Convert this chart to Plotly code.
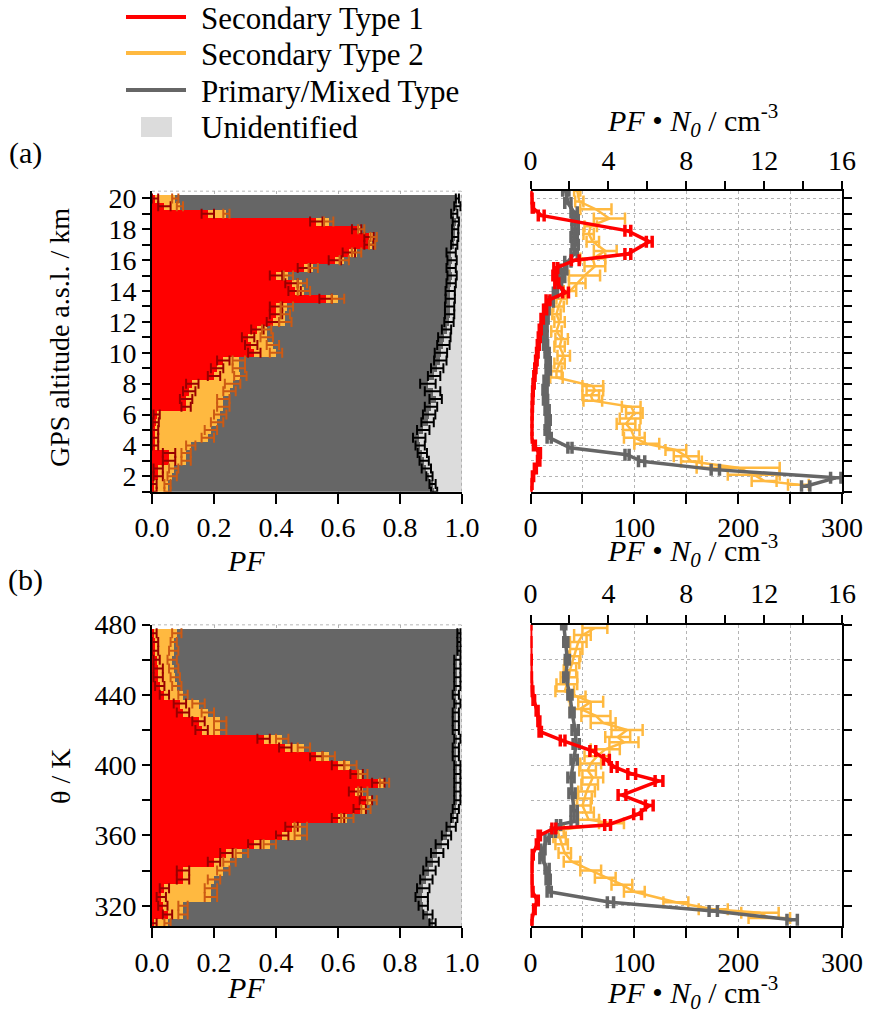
import plotly.graph_objects as go

# ---------------- (a) particle fractions vs. GPS altitude (0.5 km bins) ----------------
alt_bins = [20.0, 19.5, 19.0, 18.5, 18.0, 17.5, 17.0, 16.5, 16.0, 15.5, 15.0, 14.5, 14.0,
            13.5, 13.0, 12.5, 12.0, 11.5, 11.0, 10.5, 10.0, 9.5, 9.0, 8.5, 8.0, 7.5, 7.0,
            6.5, 6.0, 5.5, 5.0, 4.5, 4.0, 3.5, 3.0, 2.5, 2.0, 1.5, 1.0]
pf_sec1_a = [0.01, 0.04, 0.18, 0.53, 0.66, 0.70, 0.70, 0.635, 0.59, 0.49, 0.40, 0.45, 0.46,
             0.56, 0.40, 0.40, 0.39, 0.34, 0.31, 0.32, 0.33, 0.23, 0.21, 0.20, 0.13, 0.12, 0.11,
             0.11, 0.015, 0.012, 0.01, 0.01, 0.01, 0.055, 0.055, 0.02, 0.02, 0.005, 0.005]
pf_sec2_a = [0.065, 0.05, 0.06, 0.04, 0.015, 0.015, 0.01, 0.025, 0.03, 0.03, 0.04, 0.035, 0.03,
             0.04, 0.035, 0.03, 0.04, 0.03, 0.06, 0.07, 0.07, 0.05, 0.07, 0.085, 0.13, 0.13, 0.12,
             0.12, 0.205, 0.198, 0.18, 0.17, 0.115, 0.055, 0.055, 0.05, 0.045, 0.045, 0.045]
pf_unid_a = [0.015, 0.015, 0.025, 0.02, 0.022, 0.022, 0.025, 0.035, 0.032, 0.035, 0.032, 0.035, 0.038,
             0.038, 0.04, 0.04, 0.042, 0.05, 0.057, 0.06, 0.068, 0.07, 0.08, 0.09, 0.11, 0.095, 0.085,
             0.10, 0.106, 0.111, 0.125, 0.138, 0.135, 0.128, 0.122, 0.115, 0.105, 0.095, 0.09]
err_sec1_a = [0.01, 0.02, 0.02, 0.02, 0.015, 0.015, 0.015, 0.02, 0.02, 0.02, 0.02, 0.02, 0.02,
              0.02, 0.02, 0.02, 0.02, 0.02, 0.02, 0.02, 0.02, 0.02, 0.02, 0.02, 0.02, 0.02, 0.02,
              0.015, 0.01, 0.01, 0.01, 0.01, 0.01, 0.02, 0.02, 0.015, 0.015, 0.01, 0.01]
err_sec2_a = [0.01, 0.01, 0.01, 0.015, 0.01, 0.01, 0.01, 0.015, 0.015, 0.015, 0.015, 0.015, 0.02,
              0.02, 0.02, 0.015, 0.02, 0.015, 0.02, 0.02, 0.02, 0.02, 0.02, 0.02, 0.025, 0.02, 0.02,
              0.02, 0.02, 0.02, 0.02, 0.02, 0.015, 0.015, 0.015, 0.015, 0.015, 0.01, 0.01]
err_prim_a = [0.005, 0.01, 0.01, 0.01, 0.01, 0.01, 0.01, 0.015, 0.015, 0.015, 0.015, 0.015, 0.015,
              0.015, 0.015, 0.015, 0.015, 0.015, 0.02, 0.02, 0.02, 0.02, 0.02, 0.02, 0.025, 0.025, 0.02,
              0.02, 0.02, 0.02, 0.02, 0.02, 0.015, 0.015, 0.015, 0.015, 0.01, 0.01, 0.01]

# number concentrations PF*N0 along the flight, (a)
alt_sec1_n = [20.5, 20.0, 19.4, 18.9, 17.9, 17.2, 16.4, 16.0, 15.5, 15.0, 14.5, 13.9, 13.4, 12.8,
              12.2, 11.5, 11.0, 10.5, 10.0, 9.5, 9.0, 8.5, 8.0, 7.5, 7.0, 6.5, 6.0, 5.5, 5.0, 4.5,
              4.0, 3.5, 3.0, 2.5, 2.0, 1.5, 1.0]
n_sec1_a = [0.0, 0.05, 0.1, 0.55, 5.0, 6.1, 5.0, 2.3, 1.3, 1.25, 1.35, 1.8, 0.9, 0.75,
            0.6, 0.5, 0.45, 0.4, 0.35, 0.3, 0.25, 0.2, 0.16, 0.12, 0.1, 0.08, 0.06, 0.05, 0.05, 0.05,
            0.2, 0.45, 0.42, 0.25, 0.12, 0.05, 0.0]
nerr_sec1_a = [0.02, 0.03, 0.05, 0.15, 0.15, 0.15, 0.15, 0.2, 0.1, 0.1, 0.1, 0.15, 0.1, 0.08,
               0.06, 0.05, 0.05, 0.05, 0.04, 0.04, 0.03, 0.03, 0.03, 0.02, 0.02, 0.02, 0.02, 0.02, 0.02, 0.02,
               0.05, 0.06, 0.06, 0.05, 0.04, 0.03, 0.02]

alt_sec2_n = [20.5, 19.8, 19.3, 18.7, 18.2, 17.7, 17.2, 16.6, 16.1, 15.6, 15.0, 14.5, 14.0, 13.5,
              13.0, 12.5, 12.0, 11.4, 10.9, 10.4, 9.8, 9.3, 8.8, 8.4, 7.85, 7.55, 7.25, 6.9, 6.5,
              6.1, 5.75, 5.4, 5.0, 4.5, 4.1, 3.7, 3.3, 2.95, 2.55, 2.1, 1.7, 1.45]
n_sec2_a = [45, 47, 63, 76, 58, 56, 60, 72, 60, 62, 52, 45, 38, 30,
            27, 25, 28, 25, 30, 28, 32, 28, 25, 25, 60, 62, 58, 60, 97,
            100, 96, 92, 97, 100, 112, 140, 150, 155, 200, 215, 225, 258]
nerr_sec2_a = [3, 4, 15, 15, 6, 5, 6, 11, 12, 10, 15, 8, 6, 5,
               5, 4, 5, 5, 6, 5, 6, 5, 5, 6, 10, 8, 8, 9, 9,
               8, 10, 9, 8, 10, 12, 10, 12, 10, 40, 25, 12, 10]

alt_prim_n = [20.5, 19.7, 19.1, 18.6, 18.0, 17.5, 17.0, 16.4, 15.9, 15.4, 14.9, 14.4, 13.9, 13.3,
              12.8, 12.2, 11.7, 11.1, 10.5, 10.0, 9.4, 8.9, 8.2, 7.6, 6.95, 6.3, 5.65, 5.0, 4.5,
              3.85, 3.4, 2.97, 2.43, 1.9, 1.35]
n_prim_a = [34, 36, 42, 43, 43, 42, 43, 42, 36, 32, 30, 27, 24, 20,
            16, 15, 14, 14, 14.5, 16, 17, 17, 15, 14, 14.5, 16, 17, 16, 18,
            38, 93, 107, 178, 294, 265]
nerr_prim_a = [3, 3, 3, 3, 3, 3, 3, 3, 3, 3, 3, 3, 2, 2,
               2, 2, 2, 2, 2, 2, 2, 2, 2, 2, 2, 2, 2, 2, 2,
               2, 2, 3, 4, 5, 4]

# ---------------- (b) particle fractions vs. potential temperature (5 K bins) ----------------
theta_bins = [475, 470, 465, 460, 455, 450, 445, 440, 435, 430, 425, 420, 415, 410, 405, 400, 395,
              390, 385, 380, 375, 370, 365, 360, 355, 350, 345, 340, 335, 330, 325, 320, 315, 310]
pf_sec1_b = [0.005, 0.01, 0.01, 0.015, 0.02, 0.02, 0.025, 0.04, 0.09, 0.10, 0.15, 0.16, 0.36, 0.43,
             0.53, 0.60, 0.66, 0.73, 0.655, 0.69, 0.67, 0.60, 0.45, 0.42, 0.33, 0.24, 0.20, 0.10,
             0.10, 0.04, 0.03, 0.035, 0.05, 0.005]
pf_sec2_b = [0.075, 0.06, 0.06, 0.05, 0.05, 0.055, 0.055, 0.06, 0.06, 0.08, 0.07, 0.06, 0.06, 0.06,
             0.04, 0.04, 0.02, 0.02, 0.025, 0.02, 0.02, 0.03, 0.03, 0.06, 0.05, 0.05, 0.05, 0.13,
             0.10, 0.15, 0.16, 0.065, 0.05, 0.045]
pf_unid_b = [0.01, 0.01, 0.01, 0.015, 0.015, 0.015, 0.015, 0.02, 0.015, 0.02, 0.02, 0.02, 0.015, 0.02,
             0.02, 0.015, 0.015, 0.015, 0.015, 0.015, 0.02, 0.025, 0.035, 0.05, 0.065, 0.08, 0.095, 0.105,
             0.115, 0.125, 0.13, 0.125, 0.11, 0.095]
err_sec1_b = [0.01, 0.01, 0.01, 0.01, 0.015, 0.015, 0.015, 0.015, 0.02, 0.02, 0.02, 0.02, 0.02, 0.02,
              0.02, 0.02, 0.02, 0.02, 0.02, 0.02, 0.02, 0.02, 0.02, 0.02, 0.02, 0.02, 0.02, 0.02,
              0.02, 0.015, 0.015, 0.015, 0.015, 0.01]
err_sec2_b = [0.015, 0.01, 0.015, 0.015, 0.015, 0.015, 0.015, 0.015, 0.02, 0.02, 0.02, 0.02, 0.02, 0.02,
              0.02, 0.02, 0.015, 0.015, 0.015, 0.015, 0.015, 0.02, 0.02, 0.02, 0.02, 0.02, 0.02, 0.02,
              0.02, 0.02, 0.02, 0.015, 0.015, 0.01]
err_prim_b = [0.005, 0.005, 0.005, 0.01, 0.01, 0.01, 0.01, 0.01, 0.01, 0.01, 0.01, 0.01, 0.01, 0.01,
              0.01, 0.01, 0.01, 0.01, 0.01, 0.01, 0.01, 0.01, 0.015, 0.015, 0.02, 0.02, 0.02, 0.02,
              0.02, 0.02, 0.02, 0.015, 0.015, 0.01]

theta_sec1_n = [480, 470, 460, 450, 442, 437, 431, 425, 419, 414, 408, 403, 399, 395, 391, 383, 377,
                372, 366, 364, 360, 355, 349, 342, 335, 328, 323, 318, 312, 309]
n_sec1_b = [0.0, 0.0, 0.02, 0.03, 0.09, 0.17, 0.34, 0.43, 0.5, 1.65, 3.2, 3.9, 4.3, 5.2, 6.6, 4.7, 6.1,
            5.5, 3.96, 1.2, 0.45, 0.35, 0.1, 0.05, 0.05, 0.1, 0.35, 0.2, 0.05, 0.0]
nerr_sec1_b = [0.02, 0.02, 0.02, 0.02, 0.03, 0.04, 0.05, 0.05, 0.06, 0.12, 0.15, 0.15, 0.15, 0.2, 0.2,
               0.2, 0.2, 0.2, 0.15, 0.1, 0.06, 0.05, 0.04, 0.03, 0.03, 0.03, 0.05, 0.04, 0.03, 0.02]

theta_sec2_n = [478, 474, 470, 466, 462, 458, 454, 450, 446, 442, 439, 436, 432, 428, 424, 420, 416,
                413, 409, 405, 401, 397, 393, 389, 385, 381, 377, 373, 369, 367, 363, 359, 355, 350,
                345, 340, 336, 332, 328, 322, 318, 316, 313]
n_sec2_b = [62, 50, 46, 44, 42, 40, 38, 37, 35, 33, 45, 58, 48, 63, 70, 93, 84,
            90, 72, 64, 58, 55, 60, 57, 54, 52, 50, 53, 56, 78, 26, 28, 30, 33,
            40, 58, 72, 88, 100, 140, 176, 221, 230]
nerr_sec2_b = [12, 8, 8, 6, 6, 7, 6, 8, 10, 9, 8, 12, 10, 14, 12, 15, 12,
               14, 14, 12, 10, 8, 10, 8, 8, 7, 8, 8, 10, 12, 6, 6, 6, 6,
               8, 10, 10, 10, 10, 12, 14, 18, 20]

theta_prim_n = [480, 470, 460, 450, 440, 430, 420, 412, 403, 393, 384, 374, 368, 366, 362, 358, 352,
                347, 341, 335, 328, 322, 317, 312]
n_prim_b = [32, 34, 35.5, 34, 38, 40, 43, 44, 42, 39, 40, 42, 42, 27, 22, 16, 12,
            11, 16, 17, 18, 77, 176, 252]
nerr_prim_b = [2, 2, 2, 2, 2, 2, 3, 3, 3, 3, 3, 3, 3, 2, 2, 2, 2,
               2, 2, 2, 2, 3, 4, 5]

# ---------------- styling ----------------
FONT = "Liberation Serif, Times New Roman, DejaVu Serif, serif"
C_SEC1 = "#ff0000"
C_SEC2 = "#ffb940"
C_PRIM = "#666666"
C_UNID = "#dcdcdc"
EB_SEC1 = "#990000"
EB_SEC2 = "#cc5a14"
EB_PRIM = "#000000"
W, H = 869, 1019


def px_x(p):
    return p / W


def px_y(p):
    return 1 - p / H


fig = go.Figure()


def add_fraction_panel(ybins, width, r, o, u, er, eo, eg, xa, ya):
    prim = [1 - a - b - c for a, b, c in zip(r, o, u)]
    for vals, col, name in [(r, C_SEC1, "Secondary Type 1"), (o, C_SEC2, "Secondary Type 2"),
                            (prim, C_PRIM, "Primary/Mixed Type"), (u, C_UNID, "Unidentified")]:
        fig.add_trace(go.Bar(y=ybins, x=vals, orientation="h", width=width, name=name,
                             marker=dict(color=col, line=dict(width=0)),
                             xaxis=xa, yaxis=ya, showlegend=False))
    edge1 = r
    edge2 = [a + b for a, b in zip(r, o)]
    edge3 = [1 - c for c in u]
    for edge, err, col in [(edge1, er, EB_SEC1), (edge2, eo, EB_SEC2), (edge3, eg, EB_PRIM)]:
        fig.add_trace(go.Scatter(y=ybins, x=edge, mode="markers",
                                 marker=dict(size=1, color="rgba(0,0,0,0)"),
                                 error_x=dict(type="data", array=err, color=col, thickness=2, width=5),
                                 xaxis=xa, yaxis=ya, showlegend=False, cliponaxis=False))


def add_conc_line(yv, xv, err, col, lw, xa, ya, name):
    fig.add_trace(go.Scatter(y=yv, x=xv, mode="lines", name=name,
                             line=dict(color=col, width=lw),
                             error_x=dict(type="data", array=err, color=col, thickness=lw, width=6),
                             xaxis=xa, yaxis=ya, showlegend=False, cliponaxis=False))


# left panels
add_fraction_panel(alt_bins, 0.5, pf_sec1_a, pf_sec2_a, pf_unid_a,
                   err_sec1_a, err_sec2_a, err_prim_a, "x", "y")
add_fraction_panel(theta_bins, 5, pf_sec1_b, pf_sec2_b, pf_unid_b,
                   err_sec1_b, err_sec2_b, err_prim_b, "x4", "y3")

# right panels: type 2 and primary on the bottom axis, type 1 on the top axis
add_conc_line(alt_sec2_n, n_sec2_a, nerr_sec2_a, C_SEC2, 2.5, "x2", "y2", "Secondary Type 2")
add_conc_line(alt_prim_n, n_prim_a, nerr_prim_a, C_PRIM, 3.5, "x2", "y2", "Primary/Mixed Type")
add_conc_line(alt_sec1_n, n_sec1_a, nerr_sec1_a, C_SEC1, 3.5, "x3", "y2", "Secondary Type 1")
add_conc_line(theta_sec2_n, n_sec2_b, nerr_sec2_b, C_SEC2, 2.5, "x5", "y4", "Secondary Type 2")
add_conc_line(theta_prim_n, n_prim_b, nerr_prim_b, C_PRIM, 3.5, "x5", "y4", "Primary/Mixed Type")
add_conc_line(theta_sec1_n, n_sec1_b, nerr_sec1_b, C_SEC1, 3.5, "x6", "y4", "Secondary Type 1")

# ---------------- axes ----------------
LX = [px_x(152), px_x(462)]
RX = [px_x(530.5), px_x(842)]
A_Y = [px_y(491.7), px_y(190.7)]
B_Y = [px_y(926), px_y(624.5)]
tickfont = dict(family=FONT, size=28, color="black")
common = dict(showline=True, linecolor="black", linewidth=2, ticks="outside", tickcolor="black",
              tickwidth=2, tickfont=tickfont, zeroline=False, gridcolor="#b4b4b4",
              griddash="dot", gridwidth=1, automargin=False)

alt_ticks = list(range(1, 21))
alt_text = [str(v) if v % 2 == 0 else "" for v in alt_ticks]
th_ticks = list(range(320, 481, 20))
th_text = [str(v) if v % 40 == 0 else "" for v in th_ticks]
pf_ticks = [0, 0.2, 0.4, 0.6, 0.8, 1.0]
pf_text = ["0.0", "0.2", "0.4", "0.6", "0.8", "1.0"]
n_ticks = list(range(0, 301, 50))
n_text = [str(v) if v % 100 == 0 else "" for v in n_ticks]
top_ticks = list(range(0, 17, 2))
top_text = [str(v) if v % 4 == 0 else "" for v in top_ticks]

fig.update_layout(
    xaxis=dict(domain=LX, anchor="y", range=[0, 1], tickvals=pf_ticks, ticktext=pf_text,
               ticklen=10, showgrid=True, **common),
    yaxis=dict(domain=A_Y, anchor="x", range=[1, 20.5], tickvals=alt_ticks, ticktext=alt_text,
               ticklen=8, showgrid=False, **common),
    xaxis2=dict(domain=RX, anchor="y2", range=[0, 300], tickvals=n_ticks, ticktext=n_text,
                ticklen=10, showgrid=True, **common),
    xaxis3=dict(overlaying="x2", anchor="y2", side="top", range=[0, 16], tickvals=top_ticks,
                ticktext=top_text, ticklen=8, showgrid=False, **common),
    yaxis2=dict(domain=A_Y, anchor="x2", side="right", range=[1, 20.5], tickvals=alt_ticks,
                showticklabels=False, ticklen=8, showgrid=True, **common),
    xaxis4=dict(domain=LX, anchor="y3", range=[0, 1], tickvals=pf_ticks, ticktext=pf_text,
                ticklen=10, showgrid=True, **common),
    yaxis3=dict(domain=B_Y, anchor="x4", range=[308.5, 480], tickvals=th_ticks, ticktext=th_text,
                ticklen=8, showgrid=False, **common),
    xaxis5=dict(domain=RX, anchor="y4", range=[0, 300], tickvals=n_ticks, ticktext=n_text,
                ticklen=10, showgrid=True, **common),
    xaxis6=dict(overlaying="x5", anchor="y4", side="top", range=[0, 16], tickvals=top_ticks,
                ticktext=top_text, ticklen=8, showgrid=False, **common),
    yaxis4=dict(domain=B_Y, anchor="x5", side="right", range=[308.5, 480], tickvals=th_ticks,
                showticklabels=False, ticklen=8, showgrid=True, **common),
)

# dotted frame on the open sides of the fraction panels
dot = dict(color="#a0a0a0", width=1.5, dash="dot")
shapes = [
    dict(type="line", xref="x", yref="y", x0=0, x1=1, y0=20.5, y1=20.5, line=dot, layer="above"),
    dict(type="line", xref="x", yref="y", x0=1, x1=1, y0=1, y1=20.5, line=dot, layer="above"),
    dict(type="line", xref="x4", yref="y3", x0=0, x1=1, y0=480, y1=480, line=dot, layer="above"),
    dict(type="line", xref="x4", yref="y3", x0=1, x1=1, y0=308.5, y1=480, line=dot, layer="above"),
]

# legend block
legend_items = [("Secondary Type 1", C_SEC1, 17), ("Secondary Type 2", C_SEC2, 53),
                ("Primary/Mixed Type", C_PRIM, 90), ("Unidentified", C_UNID, 127)]
annotations = []
for label, col, yc in legend_items:
    if label == "Unidentified":
        shapes.append(dict(type="rect", xref="paper", yref="paper", x0=px_x(141), x1=px_x(172),
                           y0=px_y(137), y1=px_y(117), fillcolor=col, line=dict(width=0)))
    else:
        shapes.append(dict(type="line", xref="paper", yref="paper", x0=px_x(126), x1=px_x(186),
                           y0=px_y(yc), y1=px_y(yc), line=dict(color=col, width=4)))
    annotations.append(dict(text=label, xref="paper", yref="paper", x=px_x(199), y=px_y(yc + 1),
                            xanchor="left", yanchor="middle", showarrow=False,
                            font=dict(family=FONT, size=31, color="black")))

title_font = dict(family=FONT, size=30, color="black")
vtitle_font = dict(family=FONT, size=28, color="black")
conc_title = "<i>PF</i> \u2022 <i>N<sub>0</sub></i> / cm<sup>-3</sup>"
texts = [
    ("(a)", 25, 153, 0, title_font),
    ("(b)", 25, 580, 0, title_font),
    ("GPS altitude a.s.l. / km", 60, 338, -90, vtitle_font),
    ("\u03b8 / K", 60, 776, -90, vtitle_font),
    ("<i>PF</i>", 246, 560, 0, title_font),
    ("<i>PF</i>", 246, 987, 0, title_font),
    (conc_title, 692, 120, 0, title_font),
    (conc_title, 692, 550, 0, title_font),
    (conc_title, 692, 992, 0, title_font),
]
for t, x, y, ang, f in texts:
    annotations.append(dict(text=t, xref="paper", yref="paper", x=px_x(x), y=px_y(y),
                            xanchor="center", yanchor="middle", showarrow=False,
                            textangle=ang, font=f))

fig.update_layout(
    width=W, height=H, margin=dict(l=0, r=0, t=0, b=0, autoexpand=False),
    paper_bgcolor="white", plot_bgcolor="white",
    barmode="stack", bargap=0, showlegend=False,
    shapes=shapes, annotations=annotations,
    font=dict(family=FONT, color="black"),
)

fig.write_html("out.html")
